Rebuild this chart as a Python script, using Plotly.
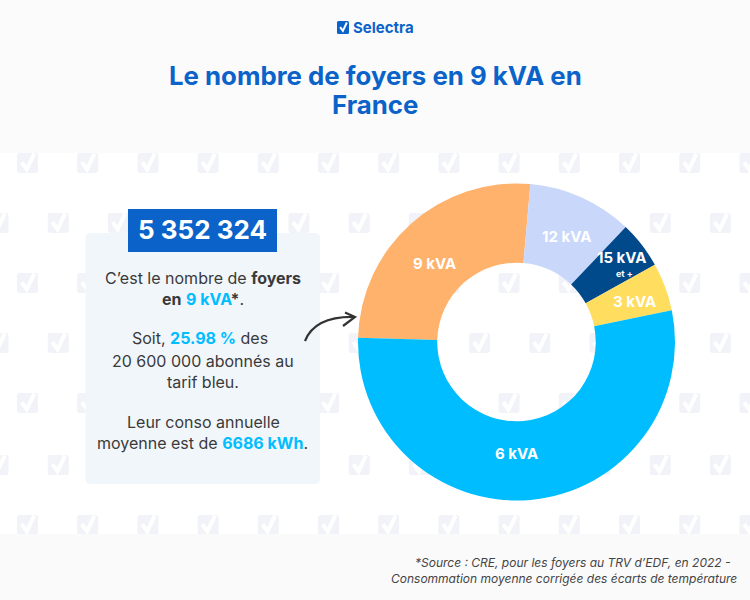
import plotly.graph_objects as go

# --- data ---
categories = ["9 kVA", "12 kVA", "15 kVA", "3 kVA", "6 kVA"]
shares = [25.98, 10.7, 4.8, 4.9, 53.62]
slice_colors = ["#FFB26B", "#C9D7FB", "#004A8C", "#FFDD5E", "#00BDFF"]
slice_labels = ["9 kVA", "12 kVA", "15 kVA", "3 kVA", "6 kVA"]
title_lines = ["Le nombre de foyers en 9 kVA en", "France"]
headline = "5 352 324"
source_lines = ["*Source : CRE, pour les foyers au TRV d’EDF, en 2022 -",
                "Consommation moyenne corrigée des écarts de température"]

W, H = 750, 600
BLUE = "#0B63C9"
CYAN = "#00BDFF"
INK = "#3A3A3A"
FONT = "Inter"

def px(x): return x / W
def py(y): return 1 - y / H

shapes, ann = [], []

def rect(x0, y0, x1, y1, color):
    shapes.append(dict(type="rect", xref="paper", yref="paper", x0=px(x0), x1=px(x1),
                       y0=py(y0), y1=py(y1), fillcolor=color, line_width=0, layer="below"))

def path(points, fill=None, stroke=None, sw=0):
    shapes.append(dict(type="path", xref="paper", yref="paper", path=points,
                       fillcolor=fill, line=dict(color=stroke or "rgba(0,0,0,0)", width=sw), layer="below"))

def P(x, y): return f"{px(x):.5f},{py(y):.5f}"

def rounded(x0, y0, x1, y1, r, color):
    d = (f"M{P(x0+r,y0)} L{P(x1-r,y0)} Q{P(x1,y0)} {P(x1,y0+r)} L{P(x1,y1-r)} Q{P(x1,y1)} {P(x1-r,y1)} "
         f"L{P(x0+r,y1)} Q{P(x0,y1)} {P(x0,y1-r)} L{P(x0,y0+r)} Q{P(x0,y0)} {P(x0+r,y0)} Z")
    path(d, fill=color)

def check(cx, cy, s, color, sw):
    path(f"M{P(cx-0.42*s,cy-0.05*s)} L{P(cx-0.08*s,cy+0.42*s)} L{P(cx+0.42*s,cy-0.62*s)}",
         stroke=color, sw=sw)

def text(x, y, s, size, color=INK, anchor="center", family=FONT):
    f = dict(family=family, size=size, color=color)
    ann.append(dict(xref="paper", yref="paper", x=px(x), y=py(y), text=s, showarrow=False,
                    xanchor=anchor, yanchor="middle", font=f, align=anchor))

# background pattern
rows = [163, 223, 283, 343, 403, 465, 525]
for i, ry in enumerate(rows):
    start = -2 if i % 2 else 27.5
    for k in range(14):
        cx = start + 60.2 * k
        rounded(cx - 10.5, ry - 10, cx + 10.5, ry + 10, 2.5, "#F1F3F8")
        check(cx + 0.5, ry, 15, "#FFFFFF", 4)

# bands
rect(0, 0, W, 153, "#FBFBFC")
rect(0, 534, W, H, "#FAFAFB")

# panel and headline box
rounded(85.5, 233, 320, 484, 5, "#F1F6FB")
rect(128, 209, 277, 252, BLUE)

# logo
rounded(337, 21, 349, 34, 1.5, BLUE)
check(343.5, 27.5, 8, "#FFFFFF", 2)
text(351, 28, "<b>Selectra</b>", 15, BLUE, "left")

# title
text(375, 75.5, f"<b>{title_lines[0]}</b>", 25.8, BLUE)
text(375, 104.5, f"<b>{title_lines[1]}</b>", 25.8, BLUE)

# headline
text(202.5, 230, f"<b>{headline}</b>", 26, "#FFFFFF")

# body text
def c(s): return f'<b><span style="color:{CYAN}">{s}</span></b>'
text(203, 278, "C’est le nombre de <b>foyers</b>", 16)
text(203, 299, f"<b>en</b> {c('9 kVA')}<b>*</b>.", 16)
text(200, 338, f"Soit, {c('25.98 %')} des", 16)
text(203, 361, "20 600 000 abonnés au", 16)
text(203, 382, "tarif bleu.", 16)
text(203, 422, "Leur conso annuelle", 16)
text(202.5, 443, f"moyenne est de {c('6686 kWh')}.", 16)

# arrow
path(f"M{P(305,341)} Q{P(315,316)} {P(355,317)}", stroke="#333333", sw=2.2)
path(f"M{P(345,312.5)} L{P(355,317)} L{P(343,326)}", stroke="#333333", sw=2.2)

# slice labels
label_pos = [(434, 263), (566, 236), (622, 257), (634.5, 301), (516, 453)]
for lab, (lx, ly) in zip(slice_labels, label_pos):
    text(lx, ly, f"<b>{lab}</b>", 15, "#FFFFFF")
text(624, 273, "<b>et +</b>", 9, "#FFFFFF")

# source
text(733, 562, f"<i>{source_lines[0]}</i>", 12, "#444444", "right")
text(738.5, 578, f"<i>{source_lines[1]}</i>", 12, "#444444", "right")

cx, cy, r = 516.5, 342, 158.5
fig = go.Figure(go.Pie(
    labels=categories, values=shares, sort=False, direction="clockwise", rotation=271.5,
    hole=0.5, marker=dict(colors=slice_colors, line=dict(width=0)), textinfo="none",
    showlegend=False, hoverinfo="label+percent",
    domain=dict(x=[px(cx - r), px(cx + r)], y=[py(cy + r), py(cy - r)]),
))
fig.update_layout(width=W, height=H, margin=dict(l=0, r=0, t=0, b=0), paper_bgcolor="#FFFFFF",
                  shapes=shapes, annotations=ann, font=dict(family=FONT))
fig.write_html("out.html", post_script="document.body.style.margin='0';document.documentElement.style.overflow='hidden';",
               config=dict(displayModeBar=False))
